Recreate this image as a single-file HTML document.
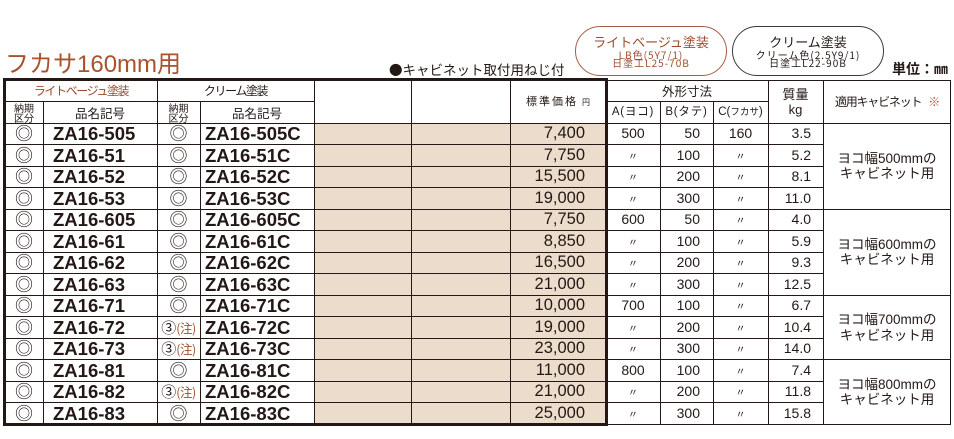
<!DOCTYPE html>
<html lang="ja">
<head>
<meta charset="utf-8">
<style>
html,body{margin:0;padding:0;}
body{width:954px;height:439px;overflow:hidden;background:#fff;position:relative;color:#231815;
font-family:"Liberation Sans","Noto Sans CJK JP",sans-serif;}
.abs{position:absolute;white-space:nowrap;}
.jp{font-family:"Noto Sans CJK JP","Liberation Sans",sans-serif;}
.h{position:absolute;height:1px;background:#231815;}
.v{position:absolute;width:1px;background:#231815;}
.beige{position:absolute;background:#ecdccb;}
.pill{position:absolute;border-radius:26px;box-sizing:border-box;text-align:center;}
.r{position:absolute;left:0;width:954px;height:21.5px;line-height:21.5px;}
.r span{position:absolute;top:0;height:21.5px;white-space:nowrap;}
.c1{left:5px;width:38px;text-align:center;font-family:"Noto Sans CJK JP",sans-serif;font-size:18px;}
.c2{left:53px;font-weight:bold;font-size:18.5px;}
.c3{left:157px;width:43px;text-align:center;font-family:"Noto Sans CJK JP",sans-serif;font-size:18px;}
.c4{left:205px;font-weight:bold;font-size:18.5px;}
.pr{left:510px;width:75px;text-align:right;font-size:16.5px;}
.a{left:606px;width:54px;text-align:center;font-size:14px;}
.b{left:660px;width:40px;text-align:right;font-size:14px;}
.c{left:713px;width:55px;text-align:center;font-size:14px;}
.m{left:768px;width:43px;text-align:right;font-size:14px;}
.dt{font-family:"Noto Sans CJK JP",sans-serif;font-size:10px !important;}
.r span.nt{font-size:15px;letter-spacing:0;}
.nt b{font-weight:normal;color:#a0502e;font-size:12.5px;font-family:"Noto Sans CJK JP",sans-serif;letter-spacing:-0.5px;}
.grp{position:absolute;left:823px;width:128px;text-align:center;font-size:13.5px;line-height:15.5px;font-family:"Liberation Sans","Noto Sans CJK JP",sans-serif;}
.pl{position:absolute;left:0;width:100%;font-family:"Noto Sans CJK JP","Liberation Sans",sans-serif;}
.ps{font-size:10px;line-height:8.5px;height:8.5px;letter-spacing:1px;}
</style>
</head>
<body>

<!-- Title -->
<div class="abs" style="left:5px;top:52px;height:26px;line-height:26px;font-size:24px;color:#a8532e;font-family:'Liberation Sans','Noto Sans CJK JP',sans-serif;">フカサ160mm用</div>

<div class="abs jp" style="left:389px;top:61px;line-height:16px;font-size:13.5px;">●キャビネット取付用ねじ付</div>

<!-- Pills -->
<div class="pill" style="left:575px;top:26px;width:152px;height:50px;border:1.3px solid #a65d45;color:#9b4a2a;">
  <div class="pl" style="top:7px;line-height:16px;font-size:13px;">ライトベージュ塗装</div>
  <div class="pl ps" style="top:23.5px;">LB色(5Y7/1)</div>
  <div class="pl ps" style="top:31.5px;">日塗工L25-70B</div>
</div>
<div class="pill" style="left:732px;top:26px;width:152px;height:50px;border:1.3px solid #3a3a3a;color:#231815;">
  <div class="pl" style="top:7px;line-height:16px;font-size:13px;">クリーム塗装</div>
  <div class="pl ps" style="top:23.5px;">クリーム色(2.5Y9/1)</div>
  <div class="pl ps" style="top:31.5px;">日塗工L22-90B</div>
</div>

<div class="abs jp" style="left:892px;top:61px;line-height:16px;font-size:14px;font-weight:bold;">単位：㎜</div>

<!-- Beige background -->
<div class="beige" style="left:314px;top:123px;width:292px;height:301px;"></div>

<!-- Horizontal lines -->
<div class="h" style="left:3px;top:78px;width:605px;height:3px;"></div>
<div class="h" style="left:606px;top:79.5px;width:345px;"></div>
<div class="h" style="left:3px;top:101.2px;width:311px;"></div>
<div class="h" style="left:606px;top:101.2px;width:162px;"></div>
<div class="h" style="left:3px;top:122.8px;width:948px;"></div>
<div class="h" style="left:3px;top:144.3px;width:820px;"></div>
<div class="h" style="left:3px;top:165.8px;width:820px;"></div>
<div class="h" style="left:3px;top:187.3px;width:820px;"></div>
<div class="h" style="left:3px;top:208.8px;width:948px;"></div>
<div class="h" style="left:3px;top:230.3px;width:820px;"></div>
<div class="h" style="left:3px;top:251.8px;width:820px;"></div>
<div class="h" style="left:3px;top:273.3px;width:820px;"></div>
<div class="h" style="left:3px;top:294.8px;width:948px;"></div>
<div class="h" style="left:3px;top:316.3px;width:820px;"></div>
<div class="h" style="left:3px;top:337.8px;width:820px;"></div>
<div class="h" style="left:3px;top:359.3px;width:948px;"></div>
<div class="h" style="left:3px;top:380.8px;width:820px;"></div>
<div class="h" style="left:3px;top:402.3px;width:820px;"></div>
<div class="h" style="left:3px;top:423px;width:605px;height:3px;"></div>
<div class="h" style="left:606px;top:423.8px;width:345px;"></div>

<!-- Vertical lines -->
<div class="v" style="left:3px;top:78px;width:3px;height:348px;"></div>
<div class="v" style="left:42.5px;top:101.7px;height:322px;"></div>
<div class="v" style="left:156.8px;top:79px;height:345px;"></div>
<div class="v" style="left:200px;top:101.7px;height:322px;"></div>
<div class="v" style="left:314px;top:79px;height:345px;"></div>
<div class="v" style="left:411.3px;top:79px;height:345px;"></div>
<div class="v" style="left:509.7px;top:79px;height:345px;"></div>
<div class="v" style="left:605px;top:78px;width:3px;height:348px;"></div>
<div class="v" style="left:659.7px;top:101.7px;height:322.6px;"></div>
<div class="v" style="left:712.7px;top:101.7px;height:322.6px;"></div>
<div class="v" style="left:768px;top:79.5px;height:345px;"></div>
<div class="v" style="left:822.5px;top:79.5px;height:345px;"></div>
<div class="v" style="left:950.2px;top:79.5px;height:345px;"></div>

<!-- Header texts -->
<div class="abs jp" style="left:5px;width:152px;top:80px;height:21.7px;line-height:21.7px;text-align:center;font-size:12px;letter-spacing:-1.4px;color:#9b4a2a;">ライトベージュ塗装</div>
<div class="abs jp" style="left:157px;width:157px;top:80px;height:21.7px;line-height:21.7px;text-align:center;font-size:12px;letter-spacing:-1.4px;">クリーム塗装</div>
<div class="abs jp" style="left:5px;width:38px;top:103px;line-height:10px;text-align:center;font-size:10px;">納期<br>区分</div>
<div class="abs jp" style="left:157px;width:43px;top:103px;line-height:10px;text-align:center;font-size:10px;">納期<br>区分</div>
<div class="abs jp" style="left:43px;width:114px;top:101.7px;height:21.6px;line-height:21.6px;text-align:center;font-size:12.5px;">品名記号</div>
<div class="abs jp" style="left:200px;width:114px;top:101.7px;height:21.6px;line-height:21.6px;text-align:center;font-size:12.5px;">品名記号</div>
<div class="abs jp" style="left:510px;width:96px;top:80px;height:43.3px;line-height:43.3px;text-align:center;font-size:11px;letter-spacing:2px;">標準価格<span style="font-size:8px;letter-spacing:0;margin-left:4px;">円</span></div>
<div class="abs jp" style="left:606px;width:162px;top:80px;height:21.7px;line-height:21.7px;text-align:center;font-size:12.5px;">外形寸法</div>
<div class="abs" style="left:606px;width:54px;top:101.7px;height:21.6px;line-height:21.6px;text-align:center;font-size:11.5px;letter-spacing:0.8px;">A(ヨコ)</div>
<div class="abs" style="left:660px;width:53px;top:101.7px;height:21.6px;line-height:21.6px;text-align:center;font-size:11.5px;letter-spacing:0.8px;">B(タテ)</div>
<div class="abs" style="left:713px;width:55px;top:101.7px;height:21.6px;line-height:21.6px;text-align:center;font-size:11.5px;">C(<span style="font-size:9.5px;">フカサ</span>)</div>
<div class="abs jp" style="left:768px;width:55px;top:86px;line-height:15px;text-align:center;font-size:13px;">質量<br><span style="font-family:'Liberation Sans',sans-serif;">kg</span></div>
<div class="abs jp" style="left:823px;width:128px;top:80px;height:43.3px;line-height:43.3px;text-align:center;font-size:12px;letter-spacing:-1.2px;">適用キャビネット<span style="color:#c8504a;margin-left:7px;">※</span></div>

<!-- Data rows -->
<div class="r" style="top:123.3px;"><span class="c1">◎</span><span class="c2">ZA16-505</span><span class="c3">◎</span><span class="c4">ZA16-505C</span><span class="pr">7,400</span><span class="a">500</span><span class="b">50</span><span class="c">160</span><span class="m">3.5</span></div>
<div class="r" style="top:144.8px;"><span class="c1">◎</span><span class="c2">ZA16-51</span><span class="c3">◎</span><span class="c4">ZA16-51C</span><span class="pr">7,750</span><span class="a dt">〃</span><span class="b">100</span><span class="c dt">〃</span><span class="m">5.2</span></div>
<div class="r" style="top:166.3px;"><span class="c1">◎</span><span class="c2">ZA16-52</span><span class="c3">◎</span><span class="c4">ZA16-52C</span><span class="pr">15,500</span><span class="a dt">〃</span><span class="b">200</span><span class="c dt">〃</span><span class="m">8.1</span></div>
<div class="r" style="top:187.8px;"><span class="c1">◎</span><span class="c2">ZA16-53</span><span class="c3">◎</span><span class="c4">ZA16-53C</span><span class="pr">19,000</span><span class="a dt">〃</span><span class="b">300</span><span class="c dt">〃</span><span class="m">11.0</span></div>
<div class="r" style="top:209.3px;"><span class="c1">◎</span><span class="c2">ZA16-605</span><span class="c3">◎</span><span class="c4">ZA16-605C</span><span class="pr">7,750</span><span class="a">600</span><span class="b">50</span><span class="c dt">〃</span><span class="m">4.0</span></div>
<div class="r" style="top:230.8px;"><span class="c1">◎</span><span class="c2">ZA16-61</span><span class="c3">◎</span><span class="c4">ZA16-61C</span><span class="pr">8,850</span><span class="a dt">〃</span><span class="b">100</span><span class="c dt">〃</span><span class="m">5.9</span></div>
<div class="r" style="top:252.3px;"><span class="c1">◎</span><span class="c2">ZA16-62</span><span class="c3">◎</span><span class="c4">ZA16-62C</span><span class="pr">16,500</span><span class="a dt">〃</span><span class="b">200</span><span class="c dt">〃</span><span class="m">9.3</span></div>
<div class="r" style="top:273.8px;"><span class="c1">◎</span><span class="c2">ZA16-63</span><span class="c3">◎</span><span class="c4">ZA16-63C</span><span class="pr">21,000</span><span class="a dt">〃</span><span class="b">300</span><span class="c dt">〃</span><span class="m">12.5</span></div>
<div class="r" style="top:295.3px;"><span class="c1">◎</span><span class="c2">ZA16-71</span><span class="c3">◎</span><span class="c4">ZA16-71C</span><span class="pr">10,000</span><span class="a">700</span><span class="b">100</span><span class="c dt">〃</span><span class="m">6.7</span></div>
<div class="r" style="top:316.8px;"><span class="c1">◎</span><span class="c2">ZA16-72</span><span class="c3 nt">③<b>(注)</b></span><span class="c4">ZA16-72C</span><span class="pr">19,000</span><span class="a dt">〃</span><span class="b">200</span><span class="c dt">〃</span><span class="m">10.4</span></div>
<div class="r" style="top:338.3px;"><span class="c1">◎</span><span class="c2">ZA16-73</span><span class="c3 nt">③<b>(注)</b></span><span class="c4">ZA16-73C</span><span class="pr">23,000</span><span class="a dt">〃</span><span class="b">300</span><span class="c dt">〃</span><span class="m">14.0</span></div>
<div class="r" style="top:359.8px;"><span class="c1">◎</span><span class="c2">ZA16-81</span><span class="c3">◎</span><span class="c4">ZA16-81C</span><span class="pr">11,000</span><span class="a">800</span><span class="b">100</span><span class="c dt">〃</span><span class="m">7.4</span></div>
<div class="r" style="top:381.3px;"><span class="c1">◎</span><span class="c2">ZA16-82</span><span class="c3 nt">③<b>(注)</b></span><span class="c4">ZA16-82C</span><span class="pr">21,000</span><span class="a dt">〃</span><span class="b">200</span><span class="c dt">〃</span><span class="m">11.8</span></div>
<div class="r" style="top:402.8px;"><span class="c1">◎</span><span class="c2">ZA16-83</span><span class="c3">◎</span><span class="c4">ZA16-83C</span><span class="pr">25,000</span><span class="a dt">〃</span><span class="b">300</span><span class="c dt">〃</span><span class="m">15.8</span></div>

<!-- Group labels -->
<div class="grp" style="top:150.8px;">ヨコ幅500mmの<br>キャビネット用</div>
<div class="grp" style="top:236.8px;">ヨコ幅600mmの<br>キャビネット用</div>
<div class="grp" style="top:312px;">ヨコ幅700mmの<br>キャビネット用</div>
<div class="grp" style="top:376.5px;">ヨコ幅800mmの<br>キャビネット用</div>

</body>
</html>
